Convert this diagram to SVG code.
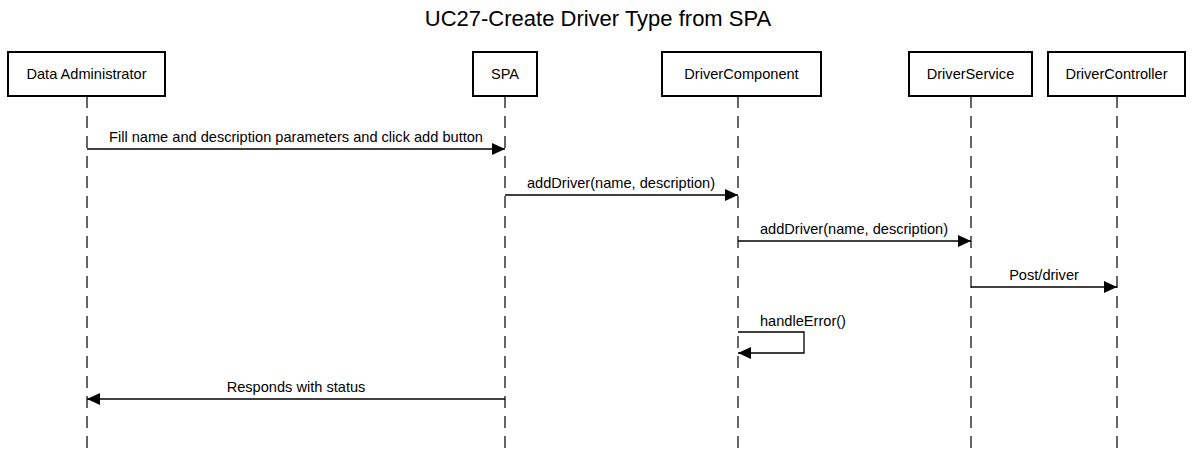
<svg xmlns="http://www.w3.org/2000/svg" width="1195" height="456" viewBox="0 0 1195 456">
<style>
.box{fill:#fff;stroke:#000;stroke-width:2}
.lbl{font-family:"Liberation Sans",Arial,sans-serif;font-size:14.6px;fill:#000;text-anchor:middle}
.life{stroke:#333;stroke-width:1.5;stroke-dasharray:12 8;fill:none}
.msg{stroke:#000;stroke-width:1.3;fill:none}
.title{font-family:"Liberation Sans",Arial,sans-serif;font-size:22px;fill:#000;text-anchor:middle}
</style>
<defs>
<marker id="ah" viewBox="0 0 13 12" refX="13" refY="6" markerWidth="13" markerHeight="12" markerUnits="userSpaceOnUse" orient="auto">
<path d="M0,0 L13,6 L0,12 Z" fill="#000"/>
</marker>
</defs>
<rect width="1195" height="456" fill="#fff"/>
<text class="title" x="598" y="26">UC27-Create Driver Type from SPA</text>
<g id="lifelines">
<line class="life" x1="87" y1="96" x2="87" y2="452"/>
<line class="life" x1="505" y1="96" x2="505" y2="452"/>
<line class="life" x1="738" y1="96" x2="738" y2="452"/>
<line class="life" x1="971" y1="96" x2="971" y2="452"/>
<line class="life" x1="1117" y1="96" x2="1117" y2="452"/>
</g>
<g id="n-admin"><rect class="box" x="8" y="52" width="157" height="44"/><text class="lbl" x="86.5" y="79">Data Administrator</text></g>
<g id="n-spa"><rect class="box" x="473" y="52" width="64" height="44"/><text class="lbl" x="505" y="79">SPA</text></g>
<g id="n-comp"><rect class="box" x="662" y="52" width="159" height="44"/><text class="lbl" x="741.5" y="79">DriverComponent</text></g>
<g id="n-svc"><rect class="box" x="909" y="52" width="123" height="44"/><text class="lbl" x="970.5" y="79">DriverService</text></g>
<g id="n-ctrl"><rect class="box" x="1048" y="52" width="137" height="44"/><text class="lbl" x="1116.5" y="79">DriverController</text></g>
<g id="connectors">
<line class="msg" x1="87" y1="149" x2="505" y2="149" marker-end="url(#ah)"/>
<text class="lbl" x="296" y="142">Fill name and description parameters and click add button</text>
<line class="msg" x1="505" y1="195" x2="738" y2="195" marker-end="url(#ah)"/>
<text class="lbl" x="621" y="188">addDriver(name, description)</text>
<line class="msg" x1="738" y1="241" x2="971" y2="241" marker-end="url(#ah)"/>
<text class="lbl" x="854" y="234">addDriver(name, description)</text>
<line class="msg" x1="971" y1="287" x2="1117" y2="287" marker-end="url(#ah)"/>
<text class="lbl" x="1044" y="280">Post/driver</text>
<path class="msg" d="M738,332 H804 V353 H738" marker-end="url(#ah)"/>
<text class="lbl" x="760" y="326" style="text-anchor:start">handleError()</text>
<line class="msg" x1="505" y1="399" x2="87" y2="399" marker-end="url(#ah)"/>
<text class="lbl" x="296" y="392">Responds with status</text>
</g>
</svg>
